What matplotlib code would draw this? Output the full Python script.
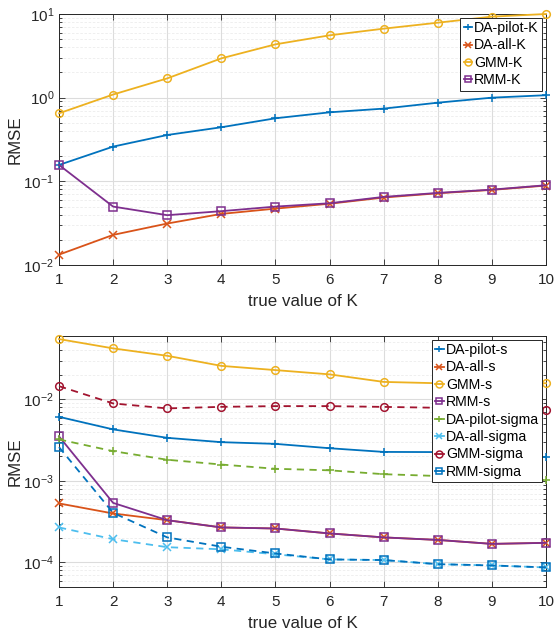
import numpy as np
import matplotlib
matplotlib.use("Agg")
import matplotlib.pyplot as plt
from matplotlib.ticker import LogLocator, NullFormatter

plt.rcParams['font.family'] = ['Liberation Sans', 'DejaVu Sans']
plt.rcParams['mathtext.fontset'] = 'custom'
plt.rcParams['mathtext.rm'] = 'Liberation Sans'

K = np.arange(1, 11)

# RMSE of estimated K
da_pilot_K = [0.157, 0.26, 0.358, 0.443, 0.567, 0.668, 0.74, 0.871, 1.0, 1.07]
da_all_K = [0.0133, 0.0229, 0.0313, 0.0408, 0.0472, 0.054, 0.064, 0.072, 0.079, 0.089]
gmm_K = [0.65, 1.09, 1.70, 2.95, 4.34, 5.56, 6.68, 7.87, 9.3, 10.0]
rmm_K = [0.157, 0.0499, 0.0394, 0.044, 0.0499, 0.0547, 0.0652, 0.0727, 0.0796, 0.0898]

# RMSE of s and sigma
da_pilot_s = [0.00612, 0.00429, 0.00338, 0.00299, 0.00285, 0.00252, 0.00227, 0.00226, 0.0021, 0.00196]
da_all_s = [0.00053, 0.000399, 0.00033, 0.000269, 0.000261, 0.000227, 0.000203, 0.000189, 0.000169, 0.000174]
gmm_s = [0.055, 0.0423, 0.0343, 0.0258, 0.0229, 0.0203, 0.0164, 0.0158, 0.0158, 0.0158]
rmm_s = [0.00352, 0.000538, 0.00033, 0.000269, 0.000261, 0.000227, 0.000203, 0.000189, 0.000169, 0.000174]
da_pilot_sigma = [0.00323, 0.00232, 0.00182, 0.00159, 0.00141, 0.00135, 0.00121, 0.00115, 0.00111, 0.00102]
da_all_sigma = [0.000269, 0.000193, 0.000154, 0.000145, 0.000126, 0.000109, 0.000107, 0.0000953, 0.0000919, 0.0000869]
gmm_sigma = [0.01455, 0.00893, 0.00776, 0.00811, 0.00828, 0.00828, 0.0081, 0.0079, 0.0077, 0.0074]
rmm_sigma = [0.0026, 0.000406, 0.000203, 0.000156, 0.000129, 0.000109, 0.000107, 0.0000953, 0.0000919, 0.0000869]

colors = ['#0072BD', '#D95319', '#EDB120', '#7E2F8E', '#77AC30', '#4DBEEE', '#A2142F', '#0072BD']
markers = ['+', 'x', 'o', 's']


def style_axis(ax, ylim):
    ax.set_yscale('log')
    ax.set_xlim(1, 10)
    ax.set_ylim(*ylim)
    ax.set_xticks(K)
    ax.yaxis.set_major_locator(LogLocator(base=10, numticks=10))
    ax.yaxis.set_minor_locator(LogLocator(base=10, subs=np.arange(2, 10), numticks=20))
    ax.yaxis.set_minor_formatter(NullFormatter())
    ax.grid(True, which='major', color='#dcdcdc', lw=0.8)
    ax.grid(True, which='minor', color='#ececec', lw=0.6, ls=(0, (3, 2)))
    ax.set_axisbelow(True)
    ax.tick_params(which='both', direction='in', top=True, right=True,
                   labelsize=11, colors='#262626', width=0.6)
    ax.tick_params(which='major', length=4)
    ax.tick_params(which='minor', length=2.5)
    ax.tick_params(axis='x', pad=6)
    for sp in ax.spines.values():
        sp.set_color('#262626')
        sp.set_linewidth(0.7)
    ax.set_xlabel('true value of K', fontsize=12.2, color='#262626', labelpad=5)
    ax.set_ylabel('RMSE', fontsize=12.2, color='#262626')
    ax.yaxis.set_label_coords(-0.074, 0.5)


fig = plt.figure(figsize=(5.56, 6.33), dpi=100)
ax1 = fig.add_axes([59 / 556, 1 - 265 / 633, 487 / 556, 251 / 633])
ax2 = fig.add_axes([59 / 556, 1 - 587 / 633, 487 / 556, 251 / 633])

top_series = [da_pilot_K, da_all_K, gmm_K, rmm_K]
top_names = ['DA-pilot-K', 'DA-all-K', 'GMM-K', 'RMM-K']
for i, (y, name) in enumerate(zip(top_series, top_names)):
    ax1.plot(K, y, color=colors[i], marker=markers[i], ms=5.5, mew=1.1, mfc='none',
             lw=1.3, label=name, clip_on=False, zorder=3)
style_axis(ax1, (1e-2, 10))

bottom_series = [da_pilot_s, da_all_s, gmm_s, rmm_s,
                 da_pilot_sigma, da_all_sigma, gmm_sigma, rmm_sigma]
bottom_names = ['DA-pilot-s', 'DA-all-s', 'GMM-s', 'RMM-s',
                'DA-pilot-sigma', 'DA-all-sigma', 'GMM-sigma', 'RMM-sigma']
for i, (y, name) in enumerate(zip(bottom_series, bottom_names)):
    ls = '-' if i < 4 else (0, (4, 3))
    ax2.plot(K, y, color=colors[i], marker=markers[i % 4], ms=5.5, mew=1.1, mfc='none',
             lw=1.3, ls=ls, label=name, clip_on=False, zorder=3)
style_axis(ax2, (5e-5, 0.06))

for ax in (ax1, ax2):
    leg = ax.legend(loc='upper right', fontsize=10.2, handlelength=0.6,
                    handletextpad=0.15, labelspacing=0.24, borderpad=0.25,
                    borderaxespad=0.25, fancybox=False, framealpha=1)
    leg.get_frame().set_edgecolor('#262626')
    leg.get_frame().set_linewidth(0.7)
    for h in leg.get_lines():
        h.set_linestyle('-')
        h.set_markersize(5)

fig.savefig('out.png', dpi=100)
